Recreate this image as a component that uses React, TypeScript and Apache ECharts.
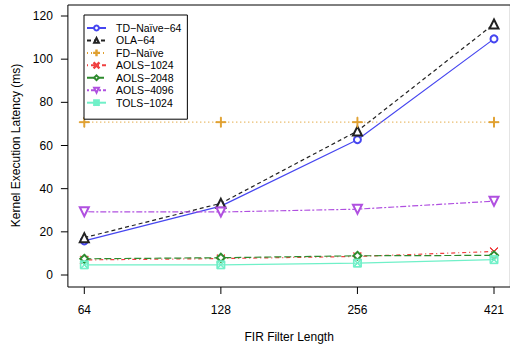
import React, { useEffect, useRef } from "react";
import * as echarts from "echarts";

const categories = ["64", "128", "256", "421"];
const seriesNames = ["TD−Naïve−64", "OLA−64", "FD−Naïve", "AOLS−1024", "AOLS−2048", "AOLS−4096", "TOLS−1024"];
const tdNaive64 = [15.8, 31.9, 62.7, 109.4];
const ola64 = [17.3, 33.2, 66.7, 116.3];
const fdNaive = [70.8, 70.8, 70.8, 70.8];
const aols1024 = [7.0, 7.6, 8.6, 10.9];
const aols2048 = [7.5, 8.0, 8.9, 9.1];
const aols4096 = [29.3, 29.2, 30.5, 34.2];
const tols1024 = [4.7, 4.7, 5.5, 7.1];
const yTicks = [0, 20, 40, 60, 80, 100, 120];

const FONT = "'Liberation Sans', Arial, Helvetica, sans-serif";
const PLUS = "path://M-1,-0.09L1,-0.09L1,0.09L-1,0.09Z M-0.09,-1L0.09,-1L0.09,1L-0.09,1Z";
const CROSS =
  "path://M-1,-0.88L-0.88,-1L1,0.88L0.88,1Z M0.88,-1L1,-0.88L-0.88,1L-1,0.88Z";
const BOXX =
  "path://M-1,-1L1,-1L1,1L-1,1Z M-0.84,-0.84L-0.84,0.84L0.84,0.84L0.84,-0.84Z M-0.84,-0.72L-0.72,-0.84L0.84,0.72L0.72,0.84Z M0.72,-0.84L0.84,-0.72L-0.72,0.84L-0.84,0.72Z";

// plot geometry (R-style box extends 4% beyond data range)
const G_LEFT = 84.3;
const G_RIGHT = 16;
const G_TOP = 16;
const G_BOTTOM = 71;
const BOX = { x: 67.9, y: 5, w: 442.5, h: 282 };
const TICK = 7;

function mk(name: string, values: number[], color: string, lineType: any, symbol: string, size: number, extra: any = {}) {
  return {
    name,
    type: "line",
    data: values,
    symbol,
    symbolSize: size,
    showAllSymbol: true,
    clip: false,
    lineStyle: { color, width: 1.2, type: lineType },
    itemStyle: { color, borderColor: color, borderWidth: 1 },
    emphasis: { disabled: true },
    ...extra,
  };
}

export default function App() {
  const ref = useRef<HTMLDivElement>(null);
  useEffect(() => {
    if (!ref.current) return;
    const chart = echarts.init(ref.current, undefined, { renderer: "svg" });
    const boxRect = {
      id: "box",
      type: "rect",
      shape: { x: BOX.x, y: BOX.y, width: BOX.w, height: BOX.h },
      style: { fill: "none", stroke: "#000", lineWidth: 1 },
      silent: true,
      z: 0,
    };
    chart.setOption({
      animation: false,
      backgroundColor: "#ffffff",
      textStyle: { fontFamily: FONT },
      grid: {
        show: false,
        left: G_LEFT,
        right: G_RIGHT,
        top: G_TOP,
        bottom: G_BOTTOM,
        containLabel: false,
      },
      graphic: [boxRect],
      legend: {
        orient: "vertical",
        left: 84,
        top: 15,
        data: seriesNames,
        itemWidth: 19,
        itemHeight: 6,
        itemGap: 0.45,
        padding: [7, 6, 10.5, 2],
        borderColor: "#000",
        borderWidth: 1,
        backgroundColor: "#fff",
        textStyle: { fontFamily: FONT, fontSize: 10.5, color: "#000", lineHeight: 12, padding: [0, 0, 0, 5] },
      },
      xAxis: {
        type: "category",
        data: categories,
        boundaryGap: false,
        offset: 10,
        name: "FIR Filter Length",
        nameLocation: "middle",
        nameGap: 46,
        nameTextStyle: { fontFamily: FONT, fontSize: 12, color: "#000" },
        axisLine: { show: false },
        splitLine: { show: false },
        axisTick: { show: false },
        axisLabel: {
          show: true,
          interval: 0,
          margin: 19,
          fontFamily: FONT,
          fontSize: 12,
          color: "#000",
        },
      },
      yAxis: {
        type: "value",
        min: yTicks[0],
        max: yTicks[yTicks.length - 1],
        interval: yTicks[1] - yTicks[0],
        offset: 16.4,
        name: "Kernel Execution Latency (ms)",
        nameLocation: "middle",
        nameGap: 29.6,
        nameTextStyle: { fontFamily: FONT, fontSize: 12, color: "#000" },
        axisLine: { show: false },
        splitLine: { show: false },
        axisTick: { show: false },
        axisLabel: {
          show: true,
          margin: 15,
          fontFamily: FONT,
          fontSize: 12,
          color: "#000",
        },
      },
      series: [
        mk(seriesNames[0], tdNaive64, "#4646F0", "solid", "emptyCircle", 7),
        mk(seriesNames[1], ola64, "#222222", [4, 3], "emptyTriangle", 9),
        mk(seriesNames[2], fdNaive, "#E0A030", [1, 3], PLUS, 10),
        mk(seriesNames[3], aols1024, "#F04040", [1, 3, 4, 3], CROSS, 8),
        mk(seriesNames[4], aols2048, "#2E8B2E", [7, 3], "emptyDiamond", 8),
        mk(seriesNames[5], aols4096, "#B050E0", [2, 2, 6, 2], "emptyTriangle", 9, { symbolRotate: 180 }),
        mk(seriesNames[6], tols1024, "#70F0C8", "solid", BOXX, 8),
      ],
    });

    // R-style outward ticks, positioned through the library's own scales
    const ticks: any[] = [];
    const bottomY = BOX.y + BOX.h;
    categories.forEach((c, i) => {
      const px = chart.convertToPixel({ xAxisIndex: 0 }, c) as number;
      if (typeof px === "number" && isFinite(px)) {
        ticks.push({
          id: "xt" + i,
          type: "line",
          shape: { x1: px, y1: bottomY, x2: px, y2: bottomY + TICK },
          style: { stroke: "#000", lineWidth: 1 },
          silent: true,
        });
      }
    });
    yTicks.forEach((v, i) => {
      const py = chart.convertToPixel({ yAxisIndex: 0 }, v) as number;
      if (typeof py === "number" && isFinite(py)) {
        ticks.push({
          id: "yt" + i,
          type: "line",
          shape: { x1: BOX.x - TICK, y1: py, x2: BOX.x, y2: py },
          style: { stroke: "#000", lineWidth: 1 },
          silent: true,
        });
      }
    });
    chart.setOption({ graphic: [boxRect, ...ticks] });
    return () => chart.dispose();
  }, []);
  return (
    <div
      ref={ref}
      style={{ position: "absolute", left: 0, top: 0, width: 510, height: 348, background: "#fff" }}
    />
  );
}
